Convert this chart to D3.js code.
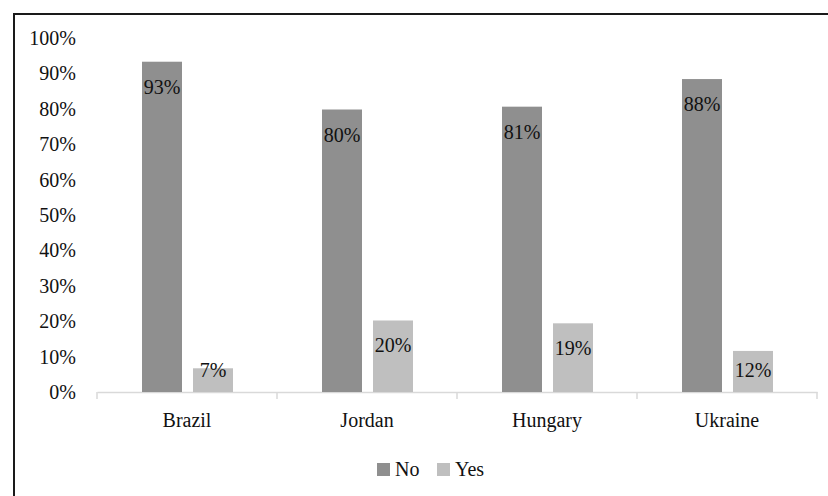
<!DOCTYPE html>
<html>
<head>
<meta charset="utf-8">
<script src="https://cdn.jsdelivr.net/npm/d3@7"></script>
<style>
  body { margin: 0; background: #fff; }
  svg { display: block; font-family: "Book Antiqua", Palatino, "Liberation Serif", serif; }
</style>
</head>
<body>
<svg id="chart" width="828" height="496"></svg>
<script>
// chart data
var countries = ["Brazil", "Jordan", "Hungary", "Ukraine"];
var seriesNames = ["No", "Yes"];
var noValues = [93.3, 79.8, 80.6, 88.4];
var yesValues = [6.7, 20.2, 19.4, 11.6];
var yTicks = [0, 10, 20, 30, 40, 50, 60, 70, 80, 90, 100];
var colors = ["#8f8f8f", "#bfbfbf"];
var fontSize = 20;

var rows = countries.map(function(c, i) {
    return { country: c, values: [noValues[i], yesValues[i]] };
});

var svg = d3.select("#chart");

// outer frame (cut off on right and bottom)
svg.append("rect")
    .attr("x", 14).attr("y", 14)
    .attr("width", 840).attr("height", 500)
    .attr("fill", "none")
    .attr("stroke", "#1a1a1a")
    .attr("stroke-width", 2);

var xScale = d3.scaleBand().domain(countries).range([97, 817]);
var xInner = d3.scaleBand().domain(seriesNames).range([45, 136]).paddingInner(11 / 51);
var yScale = d3.scaleLinear().domain([0, 100]).range([392, 38]);

// y axis labels only
var yAxis = svg.append("g")
    .attr("transform", "translate(76,0)")
    .call(d3.axisLeft(yScale).tickValues(yTicks).tickFormat(function(d) { return d + "%"; }).tickSize(0).tickPadding(0))
    .attr("font-family", null)
    .attr("font-size", fontSize);
yAxis.select(".domain").remove();
yAxis.selectAll("text").attr("fill", "#111");

// x axis
var xAxis = svg.append("g")
    .attr("transform", "translate(0,392)")
    .call(d3.axisBottom(xScale).tickSize(0).tickPadding(21))
    .attr("font-family", null)
    .attr("font-size", fontSize);
xAxis.select(".domain").attr("stroke", "#d9d9d9").attr("stroke-width", 1.5);
xAxis.selectAll("text").attr("fill", "#111");
// tick marks between categories
xAxis.selectAll("line.sep")
    .data(countries.concat(["end"]))
    .enter()
    .append("line")
    .attr("class", "sep")
    .attr("x1", function(d, i) { return 97 + i * xScale.step(); })
    .attr("x2", function(d, i) { return 97 + i * xScale.step(); })
    .attr("y1", 0).attr("y2", 7)
    .attr("stroke", "#d9d9d9")
    .attr("stroke-width", 1.5);

// bars
var groups = svg.selectAll("g.country")
    .data(rows)
    .enter()
    .append("g")
    .attr("class", "country")
    .attr("transform", function(d) { return "translate(" + xScale(d.country) + ",0)"; });

groups.selectAll("rect")
    .data(function(d) { return d.values; })
    .enter()
    .append("rect")
    .attr("x", function(d, i) { return xInner(seriesNames[i]); })
    .attr("y", function(d) { return yScale(d); })
    .attr("width", xInner.bandwidth())
    .attr("height", function(d) { return yScale(0) - yScale(d); })
    .attr("fill", function(d, i) { return colors[i]; });

// value labels (inside end)
groups.selectAll("text.lbl")
    .data(function(d) { return d.values; })
    .enter()
    .append("text")
    .attr("class", "lbl")
    .attr("x", function(d, i) { return xInner(seriesNames[i]) + xInner.bandwidth() / 2; })
    .attr("y", function(d) { return Math.min(yScale(d) + 25, yScale(0) - 22); })
    .attr("dy", "0.35em")
    .attr("text-anchor", "middle")
    .attr("font-size", fontSize)
    .attr("fill", "#111")
    .text(function(d) { return Math.round(d) + "%"; });

// legend
var legend = svg.append("g").attr("transform", "translate(377,463)");
var legendX = [0, 60];
seriesNames.forEach(function(name, i) {
    legend.append("rect")
        .attr("x", legendX[i]).attr("y", 0)
        .attr("width", 13).attr("height", 13)
        .attr("fill", colors[i]);
    legend.append("text")
        .attr("x", legendX[i] + 18).attr("y", 12.5)
        .attr("font-size", fontSize)
        .attr("fill", "#111")
        .text(name);
});
</script>
</body>
</html>
